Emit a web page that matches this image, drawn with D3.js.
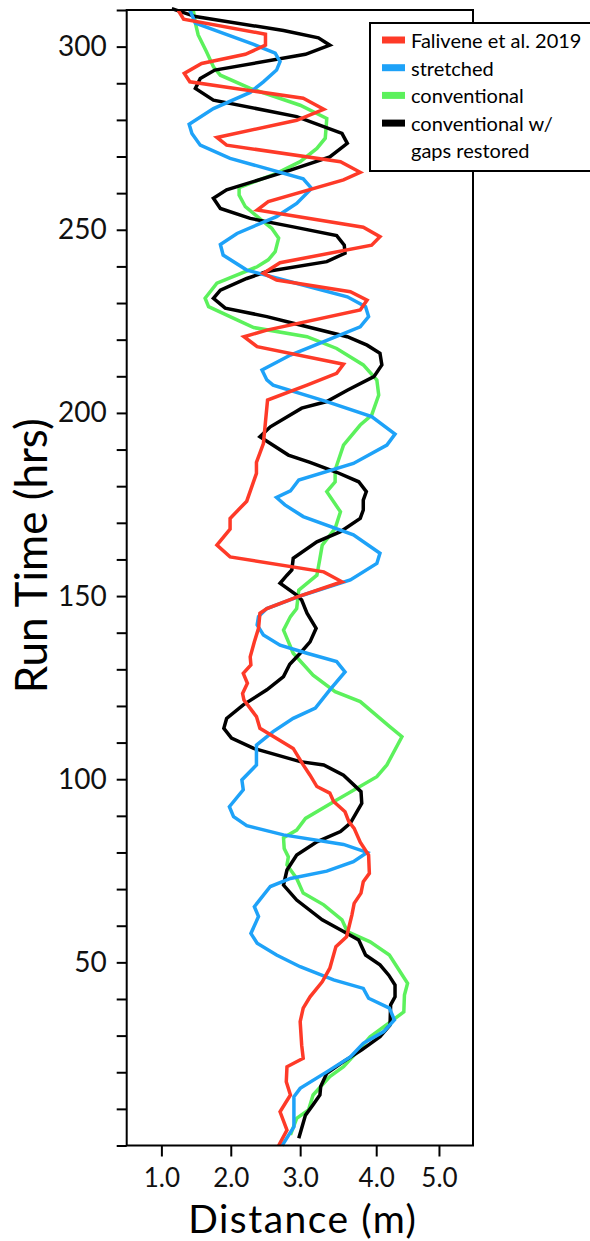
<!DOCTYPE html>
<html lang="en">
<head>
<meta charset="utf-8">
<title>Run Time vs Distance</title>
<script src="https://d3js.org/d3.v7.min.js"></script>
<style>
    body { margin: 0; background: #fff; }
    svg { display: block; font-family: Lato, "Noto Sans", sans-serif; }
    .line { fill: none; stroke-width: 3.5px; }
    .tick text { fill: #111; }
</style>
</head>
<body>
<div id="chart"></div>
<script>

// [run time (hrs), distance (m)]
const falivene = [
  [0,2.69],[4.2,2.81],[9.2,2.71],[13.8,2.86],[17.4,2.80],[21.5,2.81],[23.8,3.04],[27.4,3.02],
  [33.8,3.00],[37.5,3.04],[40.6,3.13],[44.7,3.29],[48.4,3.39],[54.3,3.47],[57.0,3.61],[62.9,3.68],
  [66.1,3.71],[68.9,3.80],[72.0,3.83],[74.3,3.91],[79.3,3.90],[82.8,3.79],[86.6,3.71],[88.4,3.64],
  [91.1,3.59],[93.9,3.44],[96.2,3.39],[98.0,3.22],[101.1,3.13],[103.9,3.04],[108.4,2.90],[113.9,2.42],
  [117.1,2.37],[121.6,2.19],[123.4,2.17],[126.2,2.24],[128.9,2.18],[131.2,2.29],[133.4,2.28],[137.5,2.34],
  [141.2,2.40],[145.3,2.42],[146.6,2.52],[149.7,2.95],[153.9,3.55],[156.6,3.31],[160.7,1.99],[163.9,1.80],
  [168.3,1.99],[171.2,1.99],[175.9,2.23],[183.5,2.37],[186.5,2.37],[191.6,2.47],[203.5,2.53],[207.6,3.09],
  [210.8,3.48],[213.3,3.57],[218.1,2.38],[220.8,2.19],[222.6,2.52],[228.1,3.79],[230.8,3.88],[233.1,3.66],
  [236.3,2.66],[238.1,2.47],[241.0,2.71],[245.8,3.94],[248.1,4.06],[250.7,3.83],[255.4,2.38],[257.7,2.54],
  [263.6,3.57],[265.7,3.79],[268.6,3.53],[273.1,1.94],[275.2,1.80],[279.9,2.95],[282.9,3.31],[285.9,3.04],
  [290.4,1.41],[292.7,1.33],[295.4,1.58],[297.9,2.21],[300.4,2.50],[303.4,2.50],[307.5,1.32],[310,1.24]
];

const stretched = [
  [0,2.74],[5.1,2.91],[13.3,2.91],[15.6,3.00],[20.1,3.35],[24.2,3.66],[27.9,3.83],[31.1,4.12],
  [34.3,4.29],[37.5,4.21],[40.2,3.90],[42.9,3.83],[45.2,3.44],[48.8,3.00],[52.0,2.66],[55.2,2.38],
  [57.9,2.29],[62.5,2.40],[65.2,2.34],[70.7,2.57],[72.9,2.86],[74.9,3.35],[77.5,3.70],[80.0,3.88],
  [82.2,3.57],[84.8,2.76],[87.3,2.23],[89.8,2.04],[92.5,1.98],[97.1,2.18],[99.8,2.16],[103.9,2.37],
  [109.3,2.37],[113.0,2.61],[116.6,2.90],[119.4,3.20],[124.4,3.39],[129.3,3.59],[132.1,3.48],[134.4,3.09],
  [136.6,2.71],[139.4,2.47],[142.1,2.38],[144.4,2.40],[146.6,2.52],[150.3,3.04],[154.4,3.66],[158.9,4.01],
  [161.7,4.06],[166.7,3.70],[171.7,3.04],[174.9,2.78],[176.9,2.66],[178.7,2.86],[181.7,2.98],[186.2,3.70],
  [191.2,4.17],[194.2,4.30],[199.0,3.94],[203.1,3.35],[207.6,2.61],[209.0,2.52],[211.7,2.45],[215.8,2.86],
  [223.5,3.79],[226.3,3.90],[229.0,3.86],[231.7,3.62],[235.8,2.86],[239.0,2.23],[243.1,1.89],[246.0,1.85],
  [249.0,2.09],[253.6,2.66],[257.2,2.95],[261.3,3.15],[263.9,3.04],[269.5,1.99],[273.1,1.56],[276.3,1.44],
  [278.8,1.40],[283.1,1.75],[287.5,2.28],[290.4,2.47],[293.6,2.66],[295.9,2.71],[298.2,2.64],[300.6,2.33],
  [306.4,1.49],[310,1.41]
];

const conventional = [
  [2.9,2.86],[7.4,2.95],[9.7,3.11],[13.8,3.17],[18.8,3.39],[21.5,3.57],[25.6,3.75],[29.7,3.92],
  [33.4,4.20],[36.5,4.44],[41.1,4.45],[44.3,4.50],[48.8,4.33],[52.0,4.21],[55.6,3.92],[58.4,3.62],
  [61.6,3.55],[65.7,3.31],[68.9,3.04],[72.9,2.95],[76.6,2.81],[78.8,2.83],[81.1,2.77],[84.0,2.76],
  [86.1,2.95],[89.3,3.07],[94.3,3.48],[100.7,4.01],[103.9,4.17],[111.6,4.41],[114.3,4.22],[121.2,3.79],
  [123.9,3.46],[128.4,3.17],[134.4,2.90],[140.7,2.76],[144.4,2.86],[146.6,2.95],[151.6,2.98],[155.7,3.22],
  [160.3,3.26],[163.9,3.29],[168.5,3.46],[173.0,3.53],[178.5,3.35],[181.2,3.46],[184.4,3.46],[191.2,3.57],
  [196.7,3.79],[199.4,3.94],[204.9,4.04],[207.6,4.02],[209.0,4.01],[213.1,3.83],[217.6,3.48],[220.8,3.09],
  [223.3,2.33],[225.4,2.09],[229.0,1.68],[231.3,1.63],[235.4,1.80],[239.9,2.38],[241.8,2.54],[244.0,2.64],
  [247.7,2.69],[250.4,2.59],[252.2,2.47],[256.3,2.21],[259.5,2.12],[261.5,2.12],[265.4,2.66],[268.6,3.00],
  [272.2,3.22],[275.0,3.33],[280.4,3.35],[284.0,3.00],[288.6,2.28],[292.2,1.85],[294.5,1.75],[298.6,1.65],
  [303.2,1.53],[306.4,1.49],[310,1.46]
];

const gapsRestored = [
  [2.0,2.98],[8.3,3.07],[11.1,3.17],[13.8,3.26],[16.1,3.27],[19.7,3.35],[22.9,3.57],[26.1,3.81],
  [29.7,4.06],[32.9,4.22],[38.4,4.23],[40.6,4.30],[43.8,4.30],[46.5,4.20],[49.3,4.06],[52.0,3.86],
  [56.1,3.77],[58.4,3.57],[61.6,3.29],[67.0,2.95],[71.1,2.76],[75.2,2.81],[79.3,2.95],[82.9,3.22],
  [85.7,3.53],[88.0,3.66],[93.4,3.81],[96.6,3.80],[101.1,3.57],[103.9,3.31],[104.8,3.00],[108.4,2.33],
  [111.2,2.01],[113.9,1.90],[116.6,1.94],[120.3,2.18],[124.4,2.52],[128.0,2.76],[131.4,2.85],[134.4,3.00],
  [137.5,3.13],[141.2,3.21],[145.3,3.09],[148.9,3.02],[150.3,2.95],[153.5,2.71],[155.7,2.81],[157.1,2.88],
  [160.3,2.90],[164.8,3.22],[167.6,3.53],[171.2,3.79],[173.5,3.83],[176.2,3.83],[178.5,3.87],[181.2,3.77],
  [183.8,3.48],[186.5,3.13],[188.5,2.83],[193.5,2.42],[196.2,2.57],[201.3,3.02],[203.1,3.35],[206.2,3.62],
  [209.9,3.97],[213.1,4.09],[216.3,4.06],[218.5,3.88],[220.8,3.62],[224.5,2.90],[226.3,2.52],[228.6,1.92],
  [231.3,1.75],[233.5,1.85],[236.7,2.23],[238.6,2.52],[241.3,3.35],[243.6,3.59],[245.8,3.58],[248.4,3.48],
  [250.8,2.90],[253.1,2.28],[255.8,1.85],[258.6,1.75],[260.9,1.94],[266.3,2.86],[269.9,3.39],[273.6,3.62],
  [276.3,3.55],[280.9,2.95],[285.4,1.75],[288.6,1.49],[291.3,1.56],[293.6,1.77],[297.9,3.07],[300.4,3.39],
  [302.4,3.24],[304.4,2.76],[308.2,1.49],[310.4,1.15]
];

const seriesNames = ["Falivene et al. 2019", "stretched", "conventional", "conventional w/\ngaps restored"];
const seriesColors = ["#fe3a28", "#1ea2f8", "#5cf15c", "#000000"];
const xTicks = [1, 2, 3, 4, 5];
const yTicks = d3.range(0, 311, 10);

const margin = {top: 10, right: 117, bottom: 95.5, left: 126.7},
    width = 590 - margin.left - margin.right,
    height = 1241 - margin.top - margin.bottom;

const svg = d3.select("#chart")
  .append("svg")
    .attr("width", 590)
    .attr("height", 1241)
  .append("g")
    .attr("transform", `translate(${margin.left},${margin.top})`);

// tick marks on the original sit a little unevenly, so the scale is piecewise
const x = d3.scaleLinear()
    .domain([0.5, 3, 4, 5, 5.5])
    .range([0, 0.5009, 0.7205, 0.9017, 1].map(f => f * width));

const y = d3.scaleLinear()
    .domain([0, 310])
    .range([height, 0]);

// y axis
const yAxis = svg.append("g")
    .call(d3.axisLeft(y)
        .tickValues(yTicks)
        .tickSize(10)
        .tickPadding(10)
        .tickFormat(d => (d > 0 && d % 50 === 0) ? d : ""));
yAxis.select(".domain").remove();
yAxis.selectAll("line").attr("stroke", "#000").attr("stroke-width", 2);
yAxis.selectAll("text").style("font-size", "28px").style("font-family", "Lato, sans-serif");

// x axis
const xAxis = svg.append("g")
    .attr("transform", `translate(0,${height})`)
    .call(d3.axisBottom(x)
        .tickValues(xTicks)
        .tickSize(11)
        .tickPadding(12)
        .tickFormat(d3.format(".1f")));
xAxis.select(".domain").remove();
xAxis.selectAll("line").attr("stroke", "#000").attr("stroke-width", 2);
xAxis.selectAll("text").style("font-size", "26px").style("font-family", "Lato, sans-serif");

// lines
const line = d3.line()
    .x(d => x(d[1]))
    .y(d => y(d[0]));

const allSeries = [falivene, stretched, conventional, gapsRestored];
const drawOrder = [2, 3, 1, 0];
drawOrder.forEach(i => {
    svg.append("path")
        .datum(allSeries[i])
        .attr("class", "line")
        .attr("stroke", seriesColors[i])
        .attr("d", line);
});

// frame
svg.append("rect")
    .attr("width", width)
    .attr("height", height)
    .attr("fill", "none")
    .attr("stroke", "#000")
    .attr("stroke-width", 2);

// axis titles
svg.append("text")
    .attr("x", width / 2 + 3)
    .attr("y", height + 87)
    .attr("text-anchor", "middle")
    .style("font-size", "39px")
    .style("letter-spacing", "1.5px")
    .text("Distance (m)");

svg.append("text")
    .attr("transform", `translate(${-80},${height / 2 - 22}) rotate(-90)`)
    .attr("text-anchor", "middle")
    .style("font-size", "44px")
    .text("Run Time (hrs)");

// legend
const legend = d3.select("svg").append("g")
    .attr("transform", "translate(370,23)");

legend.append("rect")
    .attr("width", 240)
    .attr("height", 148)
    .attr("fill", "#fff")
    .attr("stroke", "#000")
    .attr("stroke-width", 2);

const items = legend.selectAll(".legend-item")
    .data(seriesNames)
    .enter()
    .append("g")
    .attr("class", "legend-item")
    .attr("transform", (d, i) => `translate(0,${17 + i * 27.7})`);

items.append("rect")
    .attr("x", 12)
    .attr("y", -3.5)
    .attr("width", 23)
    .attr("height", 7)
    .attr("fill", (d, i) => seriesColors[i]);

items.append("text")
    .attr("x", 41)
    .attr("y", 8)
    .style("font-size", "20px")
    .selectAll("tspan")
    .data(d => d.split("\n"))
    .enter()
    .append("tspan")
    .attr("x", 41)
    .attr("dy", (d, i) => i === 0 ? 0 : 26.7)
    .text(d => d);

</script>
</body>
</html>
